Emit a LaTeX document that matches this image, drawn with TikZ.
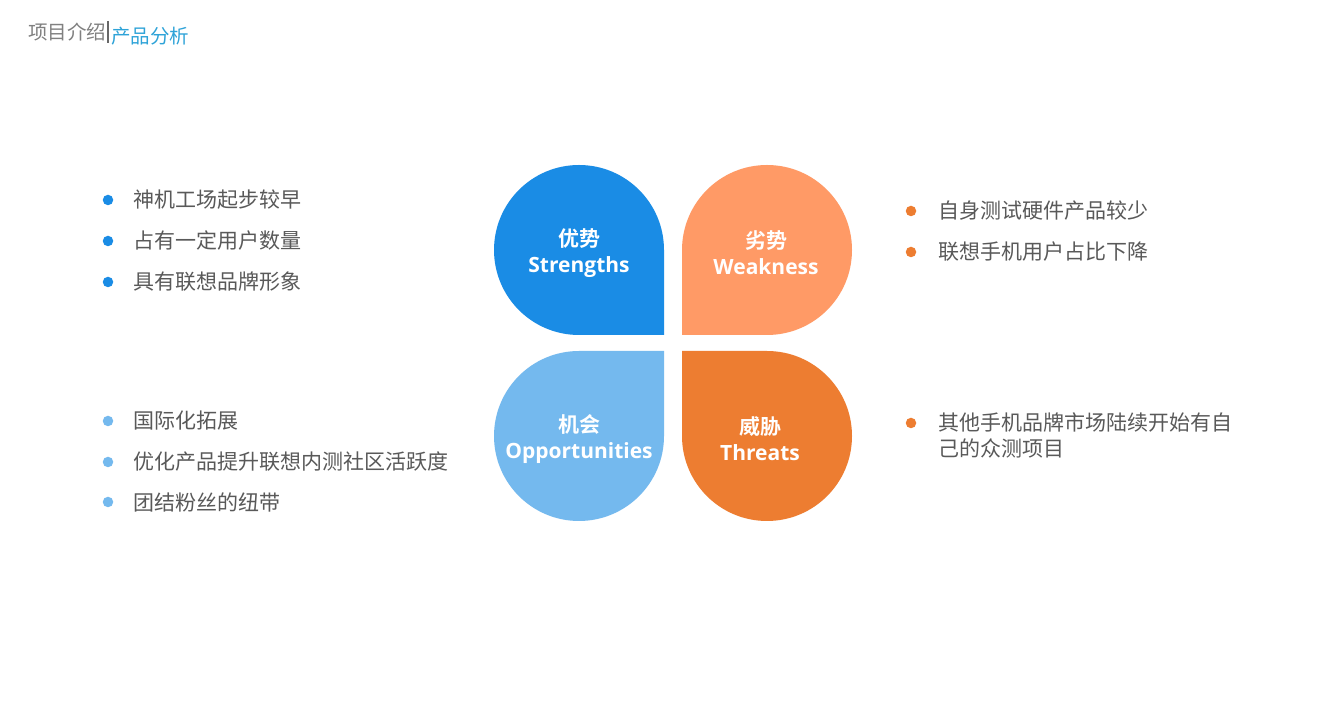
\documentclass[tikz,border=0pt]{standalone}
\usepackage{fontspec}
\setmainfont{Open Sans}
\newfontfamily\cjk{Noto Sans CJK SC}
\newfontfamily\cjkb{Noto Sans CJK SC Bold}
\newfontfamily\enb{Open Sans Bold}
\definecolor{cS}{HTML}{1A8CE5}
\definecolor{cW}{HTML}{FF9A66}
\definecolor{cO}{HTML}{74B9EE}
\definecolor{cT}{HTML}{ED7D31}
\definecolor{txt}{HTML}{595959}
\definecolor{hdr}{HTML}{808080}
\definecolor{hdrb}{HTML}{2EA3D8}
\tikzset{
  petal/.style={draw=none},
  lab/.style={text=white, align=center, inner sep=0pt, font=\fontsize{21}{26}\selectfont},
  item/.style={anchor=west, inner sep=0pt, text=txt, font=\cjk\fontsize{21}{26}\selectfont, align=left},
  dot/.style={circle, inner sep=0pt, minimum size=10.5pt},
}
\begin{document}
\begin{tikzpicture}[x=1pt,y=1pt]
\useasboundingbox (0,0) rectangle (1323,720);
\fill[white] (0,0) rectangle (1323,720);
% header
\node[anchor=west, inner sep=0pt, text=hdr, font=\cjk\fontsize{19.5}{20}\selectfont] (h1) at (28,688) {项目介绍};
\draw[line width=1.5pt, hdr!80!black] (108,699) -- (108,677);
\node[anchor=west, inner sep=0pt, text=hdrb, font=\cjk\fontsize{19.5}{20}\selectfont] (h2) at (111,684) {产品分析};
% petals
\fill[cS] (664,385) -- (664,470) arc[start angle=0, end angle=270, radius=85] -- cycle;
\fill[cW] (682,385) -- (767,385) arc[start angle=-90, end angle=180, radius=85] -- cycle;
\fill[cO] (664,369) -- (579,369) arc[start angle=90, end angle=360, radius=85] -- cycle;
\fill[cT] (682,369) -- (682,284) arc[start angle=180, end angle=450, radius=85] -- cycle;
\node[lab] (ls) at (579,467) {{\cjkb 优势}\\{\enb Strengths}};
\node[lab] (lw) at (766,467) {{\cjkb 劣势}\\{\enb Weakness}};
\node[lab] (lo) at (579,281) {{\cjkb 机会}\\{\enb Opportunities}};
\node[lab] (lt) at (760,281) {{\cjkb 威胁}\\{\enb Threats}};
% left lists
\node[dot, fill=cS] (d1) at (108,520) {};
\node[item] (t1) at (133,520) {神机工场起步较早};
\node[dot, fill=cS] (d2) at (108,479) {};
\node[item] (t2) at (133,479) {占有一定用户数量};
\node[dot, fill=cS] (d3) at (108,438) {};
\node[item] (t3) at (133,438) {具有联想品牌形象};
\node[dot, fill=cO] (d4) at (108,299) {};
\node[item] (t4) at (133,299) {国际化拓展};
\node[dot, fill=cO] (d5) at (108,258) {};
\node[item] (t5) at (133,258) {优化产品提升联想内测社区活跃度};
\node[dot, fill=cO] (d6) at (108,218) {};
\node[item] (t6) at (133,218) {团结粉丝的纽带};
% right lists
\node[dot, fill=cT] (d7) at (911,509) {};
\node[item] (t7) at (938,509) {自身测试硬件产品较少};
\node[dot, fill=cT] (d8) at (911,468) {};
\node[item] (t8) at (938,468) {联想手机用户占比下降};
\node[dot, fill=cT] (d9) at (911,297) {};
\node[item, anchor=north west] (t9) at (938,308) {其他手机品牌市场陆续开始有自\\己的众测项目};
\end{tikzpicture}
\end{document}
